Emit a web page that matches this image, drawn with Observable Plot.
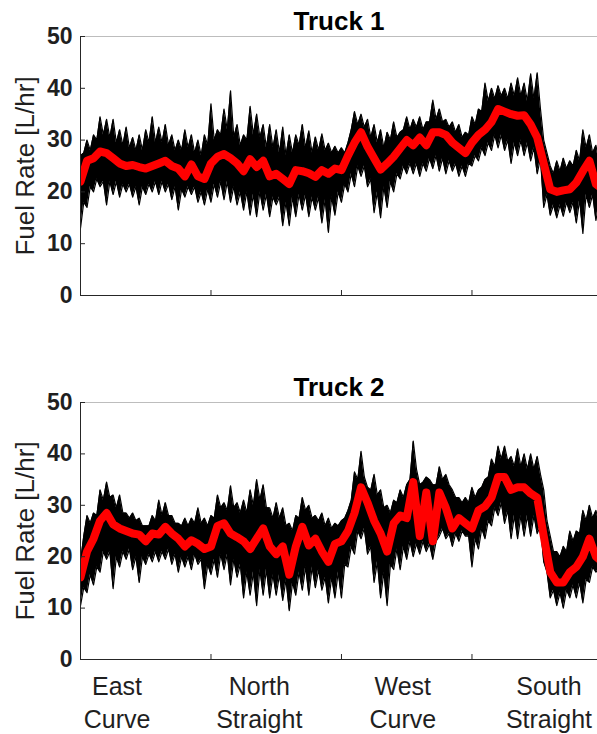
<!DOCTYPE html>
<html>
<head>
<meta charset="utf-8">
<script src="https://cdn.jsdelivr.net/npm/d3@7"></script>
<script src="https://cdn.jsdelivr.net/npm/@observablehq/plot@0.6"></script>
<style>
  body { margin: 0; background: #fff; }
  #chart { position: relative; width: 597px; height: 734px; overflow: hidden; background: #fff; }
  #chart svg { position: absolute; left: 0; overflow: visible; }
</style>
</head>
<body>
<div id="chart"></div>
<script>
// Route position along the test track (0 = start of East Curve, one unit per segment tick).
// Means and run extremes are sampled every 0.05 units; the "Mid" arrays hold the run
// extremes halfway between those samples (the dips between spikes).
const step = 0.05;
const xEnd = 3.962;

// Truck 1: ensemble mean fuel rate and the upper / lower extent of the individual runs [L/hr]
const truck1Mean = [
  22, 26, 26.5, 27.8, 27.5, 26.5, 25.5, 25, 25.2, 24.8,
  24.5, 25, 25.5, 26, 25, 24.5, 23, 25.3, 23, 22.5,
  25.5, 26.8, 27.3, 26.5, 25.5, 24, 26.3, 24.8, 26, 23,
  23.5, 22.5, 21.5, 24.2, 24, 23.6, 22.9, 24.2, 23.5, 24.5,
  24.2, 27, 29.5, 31.5, 28.7, 26.5, 24.3, 25.5, 26.8, 28.4,
  30, 29, 30.5, 29, 31.5, 31.5, 31, 29.5, 28.5, 27.5,
  29.5, 31, 32, 33.5, 36, 35.5, 35, 34.7, 34.8, 33,
  30.5, 25.5, 20.5, 20, 20.3, 20.5, 21.8, 24, 26, 21.5,
  20.5
];
const truck1High = [
  27, 30, 31, 34.5, 34, 34, 32, 32.5, 30.5, 31,
  32, 34.5, 32.5, 33, 31, 30, 32, 31, 30, 31,
  37, 32, 36, 39.5, 33, 31, 36.5, 35, 33, 33,
  32, 32.5, 31, 31, 33, 31.8, 30.6, 31.2, 29.4, 28.8,
  28.5, 29.5, 35.5, 35, 34, 33, 32, 31.5, 33.5, 31.5,
  34.5, 34, 34.5, 33.5, 37.7, 36, 34, 33.5, 33, 31.5,
  34.5, 36, 41, 40, 40.5, 40, 41, 42, 41, 42.8,
  43, 30, 25, 26, 26.5, 26, 28, 32, 31, 29,
  27
];
const truck1HighMid = [
  27.5, 28, 30, 31, 30.5, 29.5, 29, 28.5, 28, 28,
  29.5, 29.5, 29.5, 29, 28, 28, 28.5, 27.5, 27, 29,
  30, 31, 32, 30.5, 29, 30, 31, 30.5, 28.5, 28.5,
  27.5, 27, 27.5, 29, 28.5, 27.5, 28, 28, 27.5, 27.5,
  27.5, 32, 33, 32.5, 30.5, 29.5, 28.5, 30, 30.5, 32,
  32, 32.5, 32, 33.5, 34, 33.5, 32.5, 31.5, 30.5, 31,
  33, 35.5, 37.5, 38, 38.5, 38, 38.5, 38.5, 37.5, 38,
  36, 27.5, 23.5, 24, 24.5, 25, 26, 28.5, 27.5, 25.5
];
const truck1Low = [
  13, 17, 20, 21, 17.5, 19.5, 19, 20, 19, 17.5,
  19.5, 20, 19.5, 20, 18.5, 16.5, 19, 19.5, 18, 17.5,
  18, 19, 18.5, 18, 17.5, 16.5, 15.5, 15.2, 16.5, 15.2,
  17.5, 13.5, 13.5, 15.2, 16.5, 15.2, 16.5, 14, 12.2, 15.5,
  18, 20, 21, 23, 21, 16, 15, 17, 20, 22.5,
  23.5, 23.5, 23, 24, 24.5, 24, 23.5, 24, 23, 23,
  25, 26, 27, 28, 28.5, 28, 25.5, 27, 27, 26,
  23.5, 17, 15.5, 15, 15.3, 16, 14, 12, 17, 14.5,
  15
];
const truck1LowMid = [
  18, 21, 22.5, 22, 22, 22, 21.5, 21.5, 21, 21,
  21.5, 22, 22, 21.5, 21, 20.5, 21, 21, 20, 20.5,
  21.5, 22, 22, 21, 20, 20, 19.5, 20, 19.5, 19,
  19, 18, 19, 19.5, 19.5, 19, 19, 18.5, 19, 20,
  21.5, 23.5, 25, 25, 22.5, 20, 21, 22, 23.5, 25,
  25.5, 25.5, 25.5, 26.5, 27, 26.5, 26, 25.5, 25, 25.5,
  27, 28.5, 29.5, 31, 31, 30, 29.5, 30, 29.5, 28.5,
  26.5, 19.5, 17.5, 17.5, 18, 18, 18.5, 19.5, 19.5, 18
];

// Truck 2
const truck2Mean = [
  16, 21, 23.5, 27, 28.5, 26.3, 25.5, 25, 24.5, 24.3,
  23, 24.5, 24.3, 25.8, 24.5, 23.5, 22, 23.2, 22.5, 21.5,
  22, 26, 26.5, 24.5, 23.8, 23, 21.5, 23.5, 25.5, 22,
  20.5, 22, 16.5, 22, 25.8, 22.2, 23.5, 21, 19, 22.5,
  23, 25, 28.5, 33.5, 30.5, 27, 24.5, 21, 26.5, 28,
  27.5, 34.5, 24, 32.5, 23, 32.5, 29.5, 25.5, 27.5, 26.5,
  25.5, 29, 29.8, 31.5, 35.5, 35.5, 33, 33.5, 33.5, 32.3,
  31.5, 24, 17, 15, 15, 17, 18, 20, 23.5, 20,
  19
];
const truck2High = [
  19, 28, 28.5, 33, 34.5, 32, 32, 28.5, 28.5, 27.5,
  26, 28, 31, 30.5, 28, 26.5, 27.5, 27.5, 29.5, 27.5,
  28, 32, 30.5, 33.8, 30.5, 31, 33, 35, 34, 29.5,
  30.5, 29.5, 26.5, 28, 31.5, 30, 28, 28.5, 27.5, 26.5,
  27, 29, 36.5, 40.5, 33.5, 36, 33, 30, 31, 33,
  34, 42.5, 34, 35.5, 34, 37.5, 36, 33, 31.5, 31.5,
  33.5, 33, 35, 39, 41.5, 41.5, 39.5, 41, 40, 40,
  39.5, 33, 24, 21, 22, 25, 25, 29, 30, 29,
  28
];
const truck2HighMid = [
  24, 26.5, 28, 31, 31.5, 29.5, 28.5, 27.5, 27, 26,
  26, 27, 28, 28, 26.5, 26, 26, 26.5, 26.5, 26,
  27.5, 29.5, 29, 29.5, 28.5, 28.5, 30, 31, 29.5, 27.5,
  27.5, 26, 25, 27.5, 29, 27.5, 27, 26, 25.5, 26,
  27.5, 31, 35, 35.5, 33, 32, 29.5, 28.5, 30.5, 31.5,
  35, 37, 34.5, 35, 34, 35, 34, 31.5, 30.5, 30.5,
  31.5, 33.5, 35.5, 37.5, 39, 38.5, 37.5, 37.5, 37, 37,
  36, 27, 21, 20, 21, 23, 24.5, 27, 27.5, 26.5
];
const truck2Low = [
  10.5, 13, 14.5, 17, 19.5, 13.8, 18, 19.5, 17.5, 15,
  18.5, 19, 19, 19.5, 18.5, 17, 18, 17.5, 18.5, 13.8,
  16.5, 16, 17.5, 14.5, 16, 12, 12.5, 10.5, 12.5, 12,
  12.5, 11.5, 9.5, 12.5, 13.5, 12.5, 14, 13.5, 11, 12,
  12, 18, 20.5, 23.5, 20.5, 15, 12, 10.5, 17.5, 17.5,
  19.5, 20, 20.5, 21, 19.5, 24, 23.5, 22, 23, 24,
  18, 21.5, 23.5, 26, 28, 26.5, 23.5, 23.5, 24, 24,
  24.5, 19, 12, 10.5, 10, 12, 12, 11, 15, 17,
  16
];
const truck2LowMid = [
  14, 16.5, 18, 21, 21, 20, 21, 21.5, 20, 20,
  20.5, 21, 21, 21.5, 20.5, 20, 20, 20.5, 19.5, 18.5,
  19.5, 20.5, 20.5, 19.5, 18.5, 17, 17, 17.5, 17.5, 16.5,
  16.5, 15.5, 15, 17, 18, 18, 17.5, 16, 16, 17,
  18.5, 22, 25, 25.5, 22, 19, 17, 18.5, 21.5, 22,
  23, 22.5, 23, 22.5, 23, 25.5, 24.5, 24.5, 25, 24,
  23.5, 25.5, 27, 29.5, 30.5, 29, 28, 28, 28, 28,
  26, 17, 13.5, 13, 13.5, 14.5, 15, 15.5, 18, 17.5
];

const yTicks = [0, 10, 20, 30, 40, 50];
const xTicks = [0, 1, 2, 3];
const segmentNames = ["East\nCurve", "North\nStraight", "West\nCurve", "South\nStraight"];
const segmentCenters = [0.28, 1.37, 2.47, 3.59];
const yLabel = "Fuel Rate [L/hr]";

const font = "'Liberation Sans', Arial, Helvetica, sans-serif";
const ink = "#1f1f1f";

// Interleave the on-grid extremes with the half-step ones into one envelope table.
function envelope(high, highMid, low, lowMid) {
  const rows = [];
  high.forEach((h, i) => {
    rows.push({pos: i * step, high: h, low: low[i]});
    if (i < highMid.length) rows.push({pos: (i + 0.5) * step, high: highMid[i], low: lowMid[i]});
  });
  return rows;
}

function panel({title, mean, high, highMid, low, lowMid, height, marginBottom, showSegments}) {
  const meanRows = mean.map((m, i) => ({pos: i * step, mean: m}));
  const band = envelope(high, highMid, low, lowMid);
  const marginTop = 36, marginLeft = 80, marginRight = 0, width = 597;
  const innerH = height - marginTop - marginBottom;
  const innerW = width - marginLeft - marginRight;
  const marks = [
    Plot.areaY(band, {x: "pos", y1: "low", y2: "high", fill: "black", clip: true}),
    Plot.line(band, {x: "pos", y: "high", stroke: "black", strokeWidth: 1.2, clip: true}),
    Plot.line(band, {x: "pos", y: "low", stroke: "black", strokeWidth: 1.2, clip: true}),
    Plot.line(meanRows, {x: "pos", y: "mean", stroke: "#ff0000", strokeWidth: 8,
      strokeLinejoin: "round", strokeLinecap: "round", clip: true}),
    Plot.ruleY([50], {stroke: "#bdbdbd"}),
    Plot.ruleX([0], {stroke: "#262626"}),
    Plot.ruleY([0], {stroke: "#262626"}),
    Plot.tickY(yTicks, {y: d => d, stroke: "#262626", insetRight: innerW - 5}),
    Plot.tickX(xTicks, {x: d => d, stroke: "#262626", insetTop: innerH - 5}),
    Plot.axisY({ticks: yTicks, tickSize: 0, tickPadding: 8, label: null,
      fontSize: 23, fontWeight: "bold", fill: ink}),
    Plot.text([yLabel], {text: d => d, frameAnchor: "left", rotate: -90, dx: -55,
      textAnchor: "middle", lineAnchor: "middle", fontSize: 26, fill: ink}),
    Plot.text([title], {text: d => d, frameAnchor: "top", lineAnchor: "bottom", dy: -7,
      fontSize: 26, fontWeight: "bold", fill: "black"})
  ];
  if (showSegments) {
    marks.push(Plot.text(segmentNames, {x: (d, i) => segmentCenters[i], text: d => d,
      frameAnchor: "bottom", lineAnchor: "top", dy: 12, fontSize: 25, lineHeight: 1.32, fill: ink}));
  }
  return Plot.plot({
    width, height, marginTop, marginBottom, marginLeft, marginRight,
    x: {domain: [0, xEnd], axis: null},
    y: {domain: [0, 50], axis: null},
    style: {fontFamily: font, background: "transparent", overflow: "visible"},
    marks
  });
}

const chart = document.getElementById("chart");
const p1 = panel({title: "Truck 1", mean: truck1Mean, high: truck1High, highMid: truck1HighMid,
  low: truck1Low, lowMid: truck1LowMid, height: 320, marginBottom: 25, showSegments: false});
p1.style.top = "0px";
chart.appendChild(p1);
const p2 = panel({title: "Truck 2", mean: truck2Mean, high: truck2High, highMid: truck2HighMid,
  low: truck2Low, lowMid: truck2LowMid, height: 368, marginBottom: 75, showSegments: true});
p2.style.top = "366px";
chart.appendChild(p2);
</script>
</body>
</html>
